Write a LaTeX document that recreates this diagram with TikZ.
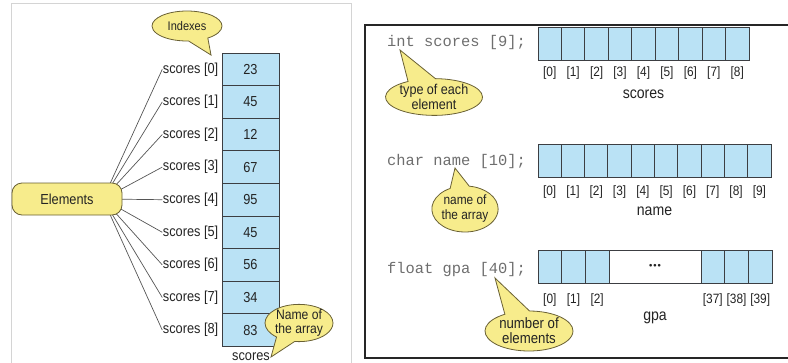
\documentclass[tikz,border=0pt]{standalone}
\usepackage{fontspec}
\setmainfont{Liberation Sans}[FakeStretch=0.88]
\setmonofont{Liberation Mono}
\newfontfamily\symfont{DejaVu Sans}
\usetikzlibrary{shapes.callouts,backgrounds}

\definecolor{cellblue}{RGB}{186,226,245}
\definecolor{celledge}{RGB}{60,62,66}
\definecolor{balloon}{RGB}{247,236,140}
\definecolor{balloonedge}{RGB}{105,96,52}
\definecolor{codegray}{RGB}{110,110,110}
\definecolor{inkgray}{RGB}{35,35,35}
\definecolor{fangray}{RGB}{85,85,85}

\tikzset{
  cell/.style={draw=celledge, fill=cellblue, line width=0.9pt, minimum width=57pt,
    minimum height=32.6pt, inner sep=0pt, text=inkgray,
    font=\fontsize{14.5}{16}\selectfont},
  hcell/.style={draw=celledge, fill=cellblue, line width=0.9pt, minimum width=#1,
    minimum height=33pt, inner sep=0pt},
  idxlabel/.style={inner sep=0.5pt, text=inkgray, font=\fontsize{14.5}{16}\selectfont},
  sublabel/.style={inner sep=0pt, text=inkgray, font=\fontsize{13.5}{15}\selectfont},
  arrname/.style={inner sep=0pt, text=inkgray, font=\fontsize{16}{18}\selectfont},
  code/.style={anchor=west, inner sep=0pt, text=codegray, font=\ttfamily\fontsize{15.4}{17}\selectfont},
  bubble/.style={ellipse callout, draw=balloonedge, fill=balloon, line width=0.8pt,
    inner sep=0pt, align=center, callout pointer arc=34, text=inkgray,
    font=\fontsize{12.5}{13}\selectfont},
  fan/.style={draw=fangray, line width=0.7pt},
}

\begin{document}
\begin{tikzpicture}[x=1pt, y=-1pt]
\useasboundingbox (0,0) rectangle (788,362);

% panel frames
\draw[draw=black!17, line width=0.8pt] (11,3) rectangle (351,370);
\draw[draw=black!85, line width=1.6pt] (365,25) rectangle (795,358);

% ---------- left: the scores column ----------
\foreach \v [count=\i from 0] in {23,45,12,67,95,45,56,34,83} {
  \node[cell] (c\i) at (250.5, {53 + 32.6*\i + 16.3}) {\v};
  \node[idxlabel, anchor=east] (s\i) at (219, {53 + 32.6*\i + 16.3}) {scores [\i]};
}
\node[arrname, anchor=base, font=\fontsize{14.5}{16}\selectfont] (colname) at (251,360) {scores};

\node[draw=balloonedge, fill=balloon, line width=0.8pt, rounded corners=10pt,
  minimum width=110pt, minimum height=32pt, inner sep=0pt, text=inkgray,
  font=\fontsize{14.5}{16}\selectfont] (elements) at (67,199) {Elements};
\coordinate (hub) at (103,199);
\begin{scope}[on background layer]
  \foreach \i in {0,...,8} { \draw[fan] (hub) -- (s\i.west); }
\end{scope}

\coordinate (idxtip) at (211,55);
\node[bubble, minimum width=70pt, minimum height=30pt,
  callout absolute pointer={(idxtip)}] (indexes) at (187,26) {Indexes};

\coordinate (nametip) at (271,357);
\node[bubble, minimum width=68pt, minimum height=32pt, font=\fontsize{13.8}{13.5}\selectfont,
  callout absolute pointer={(nametip)}] (namebubble) at (299,323) {Name of\\the array};

% ---------- right: three declarations ----------
% int scores [9];
\node[code] (decl1) at (387,43) {int scores [9];};
\foreach \i in {0,...,8} {
  \node[hcell=23.44pt] (a\i) at ({538 + 23.44*\i + 11.72}, 43.5) {};
  \node[sublabel] (ai\i) at ({538 + 23.44*\i + 11.72}, 73) {[\i]};
}
\node[arrname] (aname) at (643.5,94) {scores};

\coordinate (typetip) at (400,50);
\node[bubble, minimum width=94pt, minimum height=36pt, font=\fontsize{14.3}{15.5}\selectfont,
  callout absolute pointer={(typetip)}] (typebubble) at (434,97) {type of each\\element};

% char name [10];
\node[code] (decl2) at (387,162) {char name [10];};
\foreach \i in {0,...,9} {
  \node[hcell=23.3pt] (b\i) at ({538 + 23.3*\i + 11.65}, 161) {};
  \node[sublabel] (bi\i) at ({538 + 23.3*\i + 11.65}, 192) {[\i]};
}
\node[arrname] (bname) at (654.5,211) {name};

\coordinate (arrtip) at (455,168);
\node[bubble, minimum width=56pt, minimum height=46pt, font=\fontsize{13.5}{15}\selectfont,
  callout absolute pointer={(arrtip)}] (arrbubble) at (465,209) {name of\\the array};

% float gpa [40];
\node[code] (decl3) at (387,270) {float gpa [40];};
\foreach \i in {0,1,2} {
  \node[hcell=23.67pt] (g\i) at ({538 + 23.67*\i + 11.83}, 266.5) {};
  \node[sublabel] (gi\i) at ({538 + 23.67*\i + 11.83}, 300) {[\i]};
}
\node[draw=celledge, fill=white, line width=0.9pt, minimum width=92pt, minimum height=33pt,
  inner sep=0pt, text=inkgray, font=\symfont\bfseries\fontsize{7.5}{8}\selectfont] (gap) at (655,266.5)
  {•\kern-0.6pt•\kern-0.6pt•};
\foreach \i/\n in {0/37,1/38,2/39} {
  \node[hcell=23.67pt] (h\i) at ({701 + 23.67*\i + 11.83}, 266.5) {};
  \node[sublabel] (hi\i) at ({701 + 23.67*\i + 11.83}, 300) {[\n]};
}
\node[arrname] (gname) at (655,318) {gpa};

\coordinate (numtip) at (495,278);
\node[bubble, minimum width=88pt, minimum height=40pt, font=\fontsize{15}{15}\selectfont,
  callout absolute pointer={(numtip)}] (numbubble) at (529,331) {number of\\elements};
\end{tikzpicture}
\end{document}
